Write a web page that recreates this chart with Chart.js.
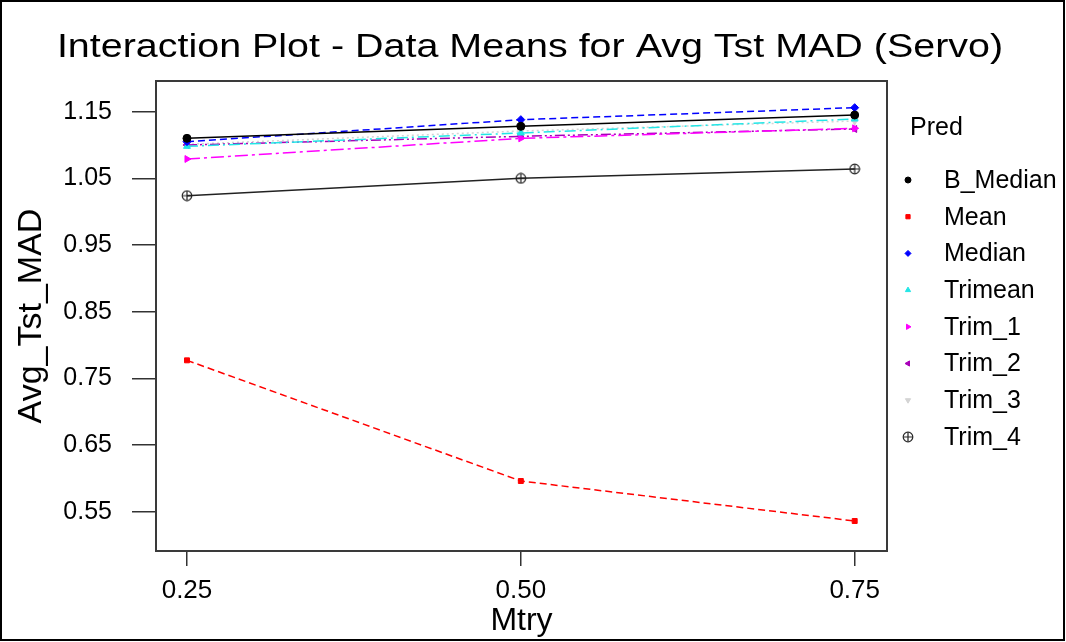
<!DOCTYPE html>
<html>
<head>
<meta charset="utf-8">
<script src="https://cdn.jsdelivr.net/npm/chart.js@4.4.1/dist/chart.umd.min.js"></script>
<style>
  html, body { margin:0; padding:0; background:#fff; }
  #wrap { width:1066px; height:642px; position:relative; }
</style>
</head>
<body>
<div id="wrap"><canvas id="chart" width="1066" height="642"></canvas></div>
<script>
/* ================= DATA ================= */
const titleText = "Interaction Plot - Data Means for Avg Tst MAD (Servo)";
const mtry = [0.25, 0.50, 0.75];
const xTicks = [0.25, 0.50, 0.75];
const yTicks = [0.55, 0.65, 0.75, 0.85, 0.95, 1.05, 1.15];
const predNames = ["B_Median", "Mean", "Median", "Trimean", "Trim_1", "Trim_2", "Trim_3", "Trim_4"];

const bMedian = [1.110, 1.128, 1.145];
const meanVals = [0.777, 0.596, 0.536];
const medianVals = [1.105, 1.138, 1.156];
const trimean = [1.098, 1.118, 1.139];
const trim1 = [1.079, 1.110, 1.125];
const trim2 = [1.100, 1.113, 1.124];
const trim3 = [1.101, 1.121, 1.136];
const trim4 = [1.024, 1.050, 1.064];

/* ================= MARKER: circle with plus ================= */
function circlePlus(){
  const c = document.createElement("canvas");
  c.width = 12; c.height = 12;
  const g = c.getContext("2d");
  g.strokeStyle = "#222"; g.lineWidth = 1.2;
  g.beginPath(); g.arc(6, 6, 4.8, 0, Math.PI*2); g.stroke();
  g.beginPath(); g.moveTo(6, 1.5); g.lineTo(6, 10.5); g.moveTo(1.5, 6); g.lineTo(10.5, 6); g.stroke();
  return c;
}

/* ================= SERIES ================= */
const styles = [
  {color:"#000000", dash:[],            point:"circle",   rot:0,   r:4},
  {color:"#ff0000", dash:[7,4],         point:"rect",     rot:0,   r:3.5},
  {color:"#0000ff", dash:[7,4],         point:"rectRot",  rot:0,   r:4},
  {color:"#22e6e6", dash:[11,4,2,4],    point:"triangle", rot:0,   r:4},
  {color:"#ff00ff", dash:[13,4,3,4],    point:"triangle", rot:90,  r:4},
  {color:"#a800b8", dash:[10,3,2,3,2,3],point:"triangle", rot:-90, r:4},
  {color:"#d4d4d4", dash:[2,3],         point:"triangle", rot:180, r:4},
  {color:"#222222", dash:[],            point:circlePlus(), rot:0, r:6}
];
const seriesVals = [bMedian, meanVals, medianVals, trimean, trim1, trim2, trim3, trim4];

const datasets = predNames.map((name, i) => ({
  label: name,
  data: mtry.map((x, j) => ({x: x, y: seriesVals[i][j]})),
  borderColor: styles[i].color,
  backgroundColor: styles[i].color,
  borderWidth: 1.5,
  borderDash: styles[i].dash,
  pointStyle: styles[i].point,
  rotation: styles[i].rot,
  pointRadius: styles[i].r,
  pointBorderWidth: 1,
  tension: 0
}));

/* ================= DECOR PLUGIN ================= */
const decor = {
  id: "decor",
  beforeDraw(chart){
    const ctx = chart.ctx;
    ctx.save();
    ctx.fillStyle = "#fff";
    ctx.fillRect(0, 0, chart.width, chart.height);
    ctx.restore();
  },
  afterDraw(chart){
    const ctx = chart.ctx, a = chart.chartArea;
    ctx.save();
    // plot frame
    ctx.strokeStyle = "#3a3a3a"; ctx.lineWidth = 2;
    ctx.strokeRect(a.left, a.top, a.right - a.left, a.bottom - a.top);
    // outer border
    ctx.strokeStyle = "#000"; ctx.lineWidth = 2;
    ctx.strokeRect(1, 1, chart.width - 3, chart.height - 3);
    // title (slightly wide type, as in the scan)
    ctx.fillStyle = "#000";
    ctx.font = "34px 'Liberation Sans', Arial, sans-serif";
    ctx.textAlign = "center"; ctx.textBaseline = "alphabetic";
    ctx.translate(530, 57);
    ctx.scale(1.16, 1);
    ctx.fillText(titleText, 0, 0);
    ctx.restore();

    // legend
    ctx.save();
    ctx.fillStyle = "#000";
    ctx.font = "25px 'Liberation Sans', Arial, sans-serif";
    ctx.textAlign = "left"; ctx.textBaseline = "middle";
    ctx.fillText("Pred", 910, 128);
    chart.data.datasets.forEach((ds, i) => {
      const y = 180 + i * 36.7;
      ctx.fillStyle = ds.backgroundColor;
      ctx.strokeStyle = ds.borderColor;
      ctx.lineWidth = 1;
      const r = typeof ds.pointStyle === "string" ? 3 : 5;
      Chart.helpers.drawPoint(ctx, {pointStyle: ds.pointStyle, rotation: ds.rotation, radius: r, borderWidth: 1}, 908, y);
      ctx.fillStyle = "#000";
      ctx.fillText(ds.label, 944, y + 1);
    });
    ctx.restore();
  }
};

/* ================= CHART ================= */
new Chart(document.getElementById("chart"), {
  type: "line",
  data: { datasets: datasets },
  plugins: [decor],
  options: {
    responsive: false,
    animation: false,
    layout: { padding: {top: 81, right: 179, left: 0, bottom: 0} },
    plugins: { legend: {display: false}, tooltip: {enabled: false} },
    scales: {
      x: {
        type: "linear",
        min: 0.2268, max: 0.7742,
        afterBuildTicks: s => { s.ticks = xTicks.map(v => ({value: v})); },
        afterFit: s => { s.height = 91; },
        grid: { drawOnChartArea: false, tickLength: 15, color: "#333", lineWidth: 1.5 },
        border: { display: false },
        ticks: {
          padding: 9, color: "#000",
          font: {family: "'Liberation Sans', Arial, sans-serif", size: 26},
          callback: v => v.toFixed(2)
        },
        title: {
          display: true, text: "Mtry", color: "#000",
          font: {family: "'Liberation Sans', Arial, sans-serif", size: 32},
          padding: {top: 0, bottom: 2}
        }
      },
      y: {
        min: 0.491, max: 1.196,
        afterBuildTicks: s => { s.ticks = yTicks.map(v => ({value: v})); },
        afterFit: s => { s.width = 156; },
        grid: { drawOnChartArea: false, tickLength: 24, color: "#333", lineWidth: 1.5 },
        border: { display: false },
        ticks: {
          padding: 20, color: "#000",
          font: {family: "'Liberation Sans', Arial, sans-serif", size: 25},
          callback: v => v.toFixed(2)
        },
        title: {
          display: true, text: "Avg_Tst_MAD", color: "#000",
          font: {family: "'Liberation Sans', Arial, sans-serif", size: 34},
          padding: {top: 11, bottom: 0}
        }
      }
    }
  }
});
</script>
</body>
</html>
